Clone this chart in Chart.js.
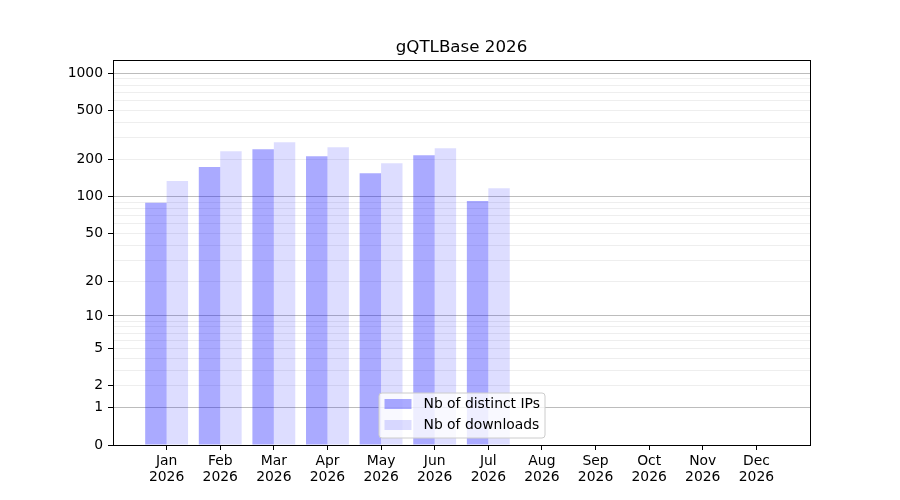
<!DOCTYPE html>
<html>
<head>
<meta charset="utf-8">
<script src="https://cdn.jsdelivr.net/npm/chart.js@4"></script>
<style>
html,body{margin:0;padding:0;background:#fff;}
#wrap{width:900px;height:500px;}
</style>
</head>
<body>
<div id="wrap"><canvas id="c" width="900" height="500"></canvas></div>
<script>
const titleText = 'gQTLBase 2026';
const months = ['Jan','Feb','Mar','Apr','May','Jun','Jul','Aug','Sep','Oct','Nov','Dec'];
const year = '2026';
const ips = [89, 174, 243, 213, 155, 217, 92, 0, 0, 0, 0, 0];
const downloads = [134, 234, 277, 252, 187, 247, 117, 0, 0, 0, 0, 0];
const labeledTicks = [0, 1, 2, 5, 10, 20, 50, 100, 200, 500, 1000];
const majorTicks = [1, 10, 100, 1000];
const minorTicks = [3,4,6,7,8,9,30,40,60,70,80,90,300,400,600,700,800,900];
const seriesNames = ['Nb of distinct IPs', 'Nb of downloads'];
const seriesColors = ['rgba(0,0,255,0.333)', 'rgba(0,0,255,0.133)'];

const tf = v => Math.log10(1 + v);
const allTicks = labeledTicks.concat(minorTicks).sort((a,b)=>a-b);

const labels = [''].concat(months).concat(['']);
const pad = arr => [null].concat(arr.map(v => v > 0 ? tf(v) : null)).concat([null]);

const FONT = 'DejaVu Sans';

const framePlugin = {
  id: 'frame',
  afterDatasetsDraw(chart) {
    const {ctx, chartArea: a} = chart;
    ctx.save();
    ctx.strokeStyle = '#000';
    ctx.lineWidth = 1;
    ctx.strokeRect(Math.round(a.left)+0.5, Math.round(a.top)+0.5, Math.round(a.right-a.left), Math.round(a.bottom-a.top));
    ctx.restore();
  },
  afterDraw(chart) {
    const {ctx, chartArea: a} = chart;
    ctx.save();
    // title
    ctx.fillStyle = '#000';
    ctx.font = '16.7px "' + FONT + '"';
    ctx.textAlign = 'center';
    ctx.textBaseline = 'alphabetic';
    ctx.fillText(titleText, (a.left + a.right) / 2, a.top - 8);
    // legend
    const w = 166, h = 45;
    const x = (a.left + a.right) / 2 - w / 2;
    const y = a.bottom - 7.5 - h;
    ctx.beginPath();
    if (ctx.roundRect) ctx.roundRect(x + 0.5, y + 0.5, w, h, 3); else ctx.rect(x + 0.5, y + 0.5, w, h);
    ctx.fillStyle = 'rgba(255,255,255,0.8)';
    ctx.fill();
    ctx.strokeStyle = '#cccccc';
    ctx.lineWidth = 1;
    ctx.stroke();
    ctx.font = '13.9px "' + FONT + '"';
    ctx.textAlign = 'left';
    ctx.textBaseline = 'middle';
    for (let i = 0; i < seriesNames.length; i++) {
      const cy = y + 11.5 + i * 21;
      ctx.fillStyle = seriesColors[i];
      ctx.fillRect(x + 6, cy - 5, 27, 10);
      ctx.fillStyle = '#000';
      ctx.fillText(seriesNames[i], x + 45, cy + 0.5);
    }
    ctx.restore();
  }
};

new Chart(document.getElementById('c'), {
  type: 'bar',
  data: {
    labels: labels,
    datasets: [
      { label: seriesNames[0], data: pad(ips), backgroundColor: seriesColors[0], borderWidth: 0, categoryPercentage: 0.8, barPercentage: 1.0 },
      { label: seriesNames[1], data: pad(downloads), backgroundColor: seriesColors[1], borderWidth: 0, categoryPercentage: 0.8, barPercentage: 1.0 }
    ]
  },
  options: {
    responsive: false,
    animation: false,
    devicePixelRatio: 1,
    layout: { padding: { left: 0, right: 90, top: 60, bottom: 0 } },
    plugins: { legend: { display: false }, title: { display: false }, tooltip: { enabled: false } },
    scales: {
      x: {
        type: 'category',
        offset: false,
        grid: {
          offset: false,
          drawOnChartArea: false,
          drawTicks: true,
          tickLength: 5,
          tickColor: c => (c.index === 0 || c.index === labels.length - 1) ? 'rgba(0,0,0,0)' : '#000'
        },
        border: { display: true, color: '#000', width: 1 },
        ticks: {
          autoSkip: false,
          maxRotation: 0,
          padding: 3,
          color: '#000',
          font: { family: FONT, size: 13.9, lineHeight: 1.18 },
          callback: (v, i) => (i === 0 || i === labels.length - 1) ? '' : [labels[i], year]
        },
        afterFit: s => { s.height = 55; }
      },
      y: {
        type: 'linear',
        min: 0,
        max: 3.107,
        afterBuildTicks: s => { s.ticks = allTicks.map(v => ({ value: tf(v) })); },
        grid: {
          drawTicks: true,
          tickLength: 5,
          lineWidth: 1,
          color: c => {
            const v = allTicks[c.index];
            if (v === 0) return 'rgba(0,0,0,0)';
            if (majorTicks.includes(v)) return 'rgba(176,176,176,0.85)';
            return 'rgba(176,176,176,0.22)';
          },
          tickColor: c => labeledTicks.includes(allTicks[c.index]) ? '#000' : 'rgba(0,0,0,0)'
        },
        border: { display: true, color: '#000', width: 1 },
        ticks: {
          autoSkip: false,
          padding: 5,
          color: '#000',
          font: { family: FONT, size: 13.9 },
          callback: (v, i) => labeledTicks.includes(allTicks[i]) ? String(allTicks[i]) : ''
        },
        afterFit: s => { s.width = 113; }
      }
    }
  },
  plugins: [framePlugin]
});
</script>
</body>
</html>
